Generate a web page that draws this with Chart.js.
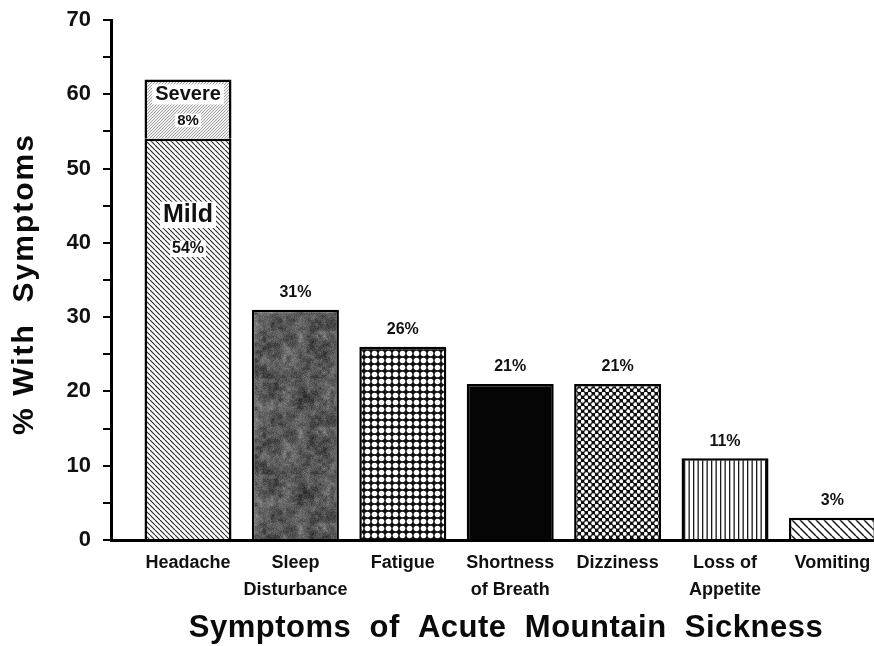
<!DOCTYPE html>
<html>
<head>
<meta charset="utf-8">
<script src="https://cdn.jsdelivr.net/npm/chart.js@4.4.0/dist/chart.umd.min.js"></script>
<style>
  html, body { margin: 0; padding: 0; background: #fff; overflow: hidden; }
  #wrap { position: relative; width: 874px; height: 646px; }
</style>
</head>
<body>
<div id="wrap"><canvas id="chart" width="874" height="646"></canvas></div>
<script>
// Symptom categories (multi-line tick labels)
const categories = [
  ['Headache'],
  ['Sleep', 'Disturbance'],
  ['Fatigue'],
  ['Shortness', 'of Breath'],
  ['Dizziness'],
  ['Loss of', 'Appetite'],
  ['Vomiting']
];
// Percent of subjects with each symptom (headache split into mild / severe)
const mildValues   = [54, 31, 26, 21, 21, 11, 3];
const severeValues = [8, null, null, null, null, null, null];
const seriesNames  = ['Mild', 'Severe'];
// Y axis tick values (labels on every 10, minor marks on every 5)
const yTickLabels  = [0, 10, 20, 30, 40, 50, 60, 70];
const yTitle = '% With  Symptoms';
const xTitle = 'Symptoms  of  Acute  Mountain  Sickness';

const FONT = '"Liberation Sans", Arial, Helvetica, sans-serif';
const canvas = document.getElementById('chart');
const ctx = canvas.getContext('2d');

// ---------- fill patterns ----------
function makePattern(w, h, draw) {
  const c = document.createElement('canvas');
  c.width = w; c.height = h;
  const g = c.getContext('2d');
  draw(g, w, h);
  return ctx.createPattern(c, 'repeat');
}
function hatch(s, dir, width, color, bg) {
  return makePattern(s, s, (g) => {
    g.fillStyle = bg; g.fillRect(0, 0, s, s);
    g.strokeStyle = color; g.lineWidth = width;
    g.beginPath();
    for (let k = -1; k <= 1; k++) {
      if (dir === 'down') { g.moveTo(k * s, 0); g.lineTo(k * s + s, s); }
      else { g.moveTo(k * s, s); g.lineTo(k * s + s, 0); }
    }
    g.stroke();
  });
}
function hash(x, y, seed) {
  let h = (x * 374761393 + y * 668265263 + seed * 982451653) | 0;
  h = Math.imul(h ^ (h >>> 13), 1274126177);
  return ((h ^ (h >>> 16)) >>> 0) / 4294967295;
}
function valueNoise(x, y, cell, period, seed) {
  const gx = x / cell, gy = y / cell;
  const x0 = Math.floor(gx), y0 = Math.floor(gy);
  const fx = gx - x0, fy = gy - y0;
  const sx = fx * fx * (3 - 2 * fx), sy = fy * fy * (3 - 2 * fy);
  const n = (a, b) => hash(((a % period) + period) % period, ((b % period) + period) % period, seed);
  const top = n(x0, y0) * (1 - sx) + n(x0 + 1, y0) * sx;
  const bot = n(x0, y0 + 1) * (1 - sx) + n(x0 + 1, y0 + 1) * sx;
  return top * (1 - sy) + bot * sy;
}
// mottled dark grey texture for the sleep-disturbance bar
const mottled = makePattern(96, 96, (g, w, h) => {
  const img = g.createImageData(w, h);
  for (let y = 0; y < h; y++) {
    for (let x = 0; x < w; x++) {
      const v = 88
        + (valueNoise(x, y, 12, 8, 1) - 0.5) * 45
        + (valueNoise(x, y, 4, 24, 2) - 0.5) * 45
        + (hash(x, y, 3) - 0.5) * 35;
      const c = Math.max(20, Math.min(170, v));
      const i = (y * w + x) * 4;
      img.data[i] = img.data[i + 1] = img.data[i + 2] = c;
      img.data[i + 3] = 255;
    }
  }
  g.putImageData(img, 0, 0);
});
const circleGrid = makePattern(7, 7, (g) => {
  g.fillStyle = '#111'; g.fillRect(0, 0, 7, 7);
  g.fillStyle = '#fff';
  g.beginPath(); g.arc(3.5, 3.5, 2.8, 0, Math.PI * 2); g.fill();
});
const diamondDots = makePattern(7, 7, (g) => {
  g.fillStyle = '#111'; g.fillRect(0, 0, 7, 7);
  g.fillStyle = '#fff';
  [[1.75, 1.75], [5.25, 5.25]].forEach(([cx, cy]) => {
    g.beginPath(); g.arc(cx, cy, 1.9, 0, Math.PI * 2); g.fill();
  });
});
const verticals = makePattern(9, 4, (g) => {
  g.fillStyle = '#fff'; g.fillRect(0, 0, 9, 4);
  g.fillStyle = '#1a1a1a';
  g.fillRect(0, 0, 1.3, 4); g.fillRect(4.5, 0, 1.3, 4);
});

const mildFills = [
  hatch(5, 'down', 1.1, '#2a2a2a', '#fff'),   // Headache (mild)
  mottled,                                      // Sleep Disturbance
  circleGrid,                                   // Fatigue
  '#050505',                                    // Shortness of Breath
  diamondDots,                                  // Dizziness
  verticals,                                    // Loss of Appetite
  hatch(8, 'down', 1.5, '#1a1a1a', '#fff')     // Vomiting
];
const severeFill = hatch(3, 'up', 0.8, '#8a8a8a', '#f2f2f2');

// ---------- value labels ----------
const barLabels = {
  id: 'barLabels',
  afterDatasetsDraw(chart) {
    const c = chart.ctx;
    const mildMeta = chart.getDatasetMeta(0);
    const sevMeta = chart.getDatasetMeta(1);
    c.save();
    c.textAlign = 'center';
    c.textBaseline = 'middle';
    c.fillStyle = '#111';

    const knockout = (text, x, y, font, padX, padY) => {
      c.font = font;
      const w = c.measureText(text).width;
      const size = parseFloat(font.match(/(\d+(\.\d+)?)px/)[1]);
      c.fillStyle = '#fff';
      c.fillRect(x - w / 2 - padX, y - size * 0.45 - padY, w + padX * 2, size * 0.9 + padY * 2);
      c.fillStyle = '#111';
      c.fillText(text, x, y);
    };

    mildMeta.data.forEach((bar, i) => {
      if (severeValues[i] != null) {
        // stacked bar: names and values inside the segments
        const sev = sevMeta.data.find((b, j) => sevMeta._parsed[j].x === i);
        if (sev) {
          knockout(seriesNames[1], sev.x, sev.y + 15, 'bold 20px ' + FONT, 3, 1);
          knockout(severeValues[i] + '%', sev.x, sev.y + 41, 'bold 15px ' + FONT, 2, 0);
        }
        knockout(seriesNames[0], bar.x, bar.y + 76, 'bold 25px ' + FONT, 3, 2);
        knockout(mildValues[i] + '%', bar.x, bar.y + 110, 'bold 16px ' + FONT, 2, 1);
      } else {
        c.font = 'bold 16px ' + FONT;
        c.fillText(mildValues[i] + '%', bar.x, bar.y - 17);
      }
    });
    c.restore();
  }
};

// ---------- axis titles ----------
const axisTitles = {
  id: 'axisTitles',
  afterDraw(chart) {
    const c = chart.ctx;
    c.save();
    c.fillStyle = '#0a0a0a';
    c.textAlign = 'center';
    c.textBaseline = 'alphabetic';
    c.font = 'bold 31px ' + FONT;
    c.letterSpacing = '0.5px';
    c.fillText(xTitle, 506, 637);
    c.translate(33, 284);
    c.rotate(-Math.PI / 2);
    c.font = 'bold 30px ' + FONT;
    c.letterSpacing = '2px';
    c.fillText(yTitle, 0, 0);
    c.restore();
  }
};

new Chart(ctx, {
  type: 'bar',
  data: {
    datasets: [
      {
        label: seriesNames[0],
        data: mildValues.map((v, i) => ({ x: i, y: v })),
        backgroundColor: mildFills,
        borderColor: '#000',
        borderWidth: 2.5,
        barPercentage: 0.81,
        categoryPercentage: 1
      },
      {
        label: seriesNames[1],
        data: severeValues.map((v, i) => ({ x: i, y: v })).filter(p => p.y != null),
        backgroundColor: severeFill,
        borderColor: '#000',
        borderWidth: { top: 2.5, left: 2.5, right: 2.5, bottom: 0 },
        borderSkipped: 'bottom',
        barPercentage: 0.81,
        categoryPercentage: 1
      }
    ]
  },
  options: {
    responsive: false,
    animation: false,
    layout: { padding: { top: 20, left: 0, right: 0, bottom: 0 } },
    plugins: {
      legend: { display: false },
      tooltip: { enabled: false },
      title: { display: false }
    },
    scales: {
      x: {
        type: 'linear',
        stacked: true,
        offset: false,
        min: -0.717,
        max: 6.387,
        afterBuildTicks: (axis) => { axis.ticks = categories.map((_, i) => ({ value: i })); },
        afterFit: (axis) => { axis.height = 106; axis.paddingLeft = 0; axis.paddingRight = 0; },
        grid: { display: false, drawTicks: false, offset: false },
        border: { display: true, color: '#000', width: 3 },
        ticks: {
          autoSkip: false,
          maxRotation: 0,
          padding: 10,
          color: '#111',
          font: { family: FONT, size: 18, weight: 'bold', lineHeight: 1.5 },
          callback: (v) => categories[v]
        }
      },
      y: {
        stacked: true,
        min: 0,
        max: 70,
        afterBuildTicks: (axis) => {
          const t = [];
          for (let v = yTickLabels[0]; v <= yTickLabels[yTickLabels.length - 1]; v += 5) t.push({ value: v });
          axis.ticks = t;
        },
        afterFit: (axis) => { axis.width = 111; axis.paddingTop = 0; axis.paddingBottom = 0; },
        grid: {
          display: true,
          drawOnChartArea: false,
          drawTicks: true,
          tickLength: 8,
          color: '#000',
          lineWidth: 2
        },
        border: { display: true, color: '#000', width: 3 },
        ticks: {
          padding: 12,
          color: '#111',
          font: { family: FONT, size: 22, weight: 'bold' },
          callback: (v) => (yTickLabels.includes(v) ? String(v) : '')
        }
      }
    }
  },
  plugins: [barLabels, axisTitles]
});
</script>
</body>
</html>
